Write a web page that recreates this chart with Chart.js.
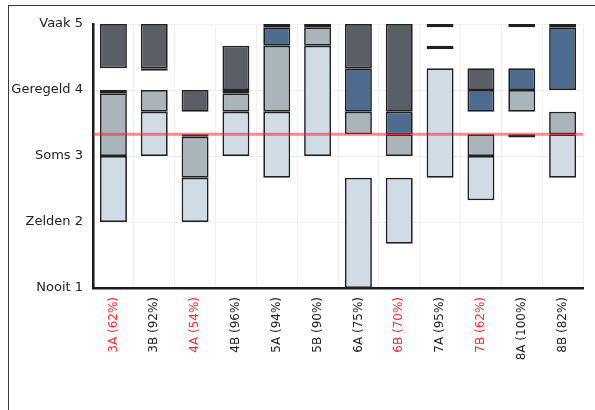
<!DOCTYPE html>
<html lang="nl">
<head>
  <meta charset="UTF-8">
  <title>Klassen</title>
  <script src="https://cdn.jsdelivr.net/npm/chart.js"></script>
  <style>
    body { margin: 0; padding: 0; background: #ffffff; overflow: hidden; }
    #wrap { position: absolute; left: 0; top: 0; width: 595px; height: 410px; }
  </style>
</head>
<body>
  <div id="wrap"><canvas id="chart"></canvas></div>
  <script>
    // Categories (class + response rate) / flagged ones get red labels
    const categories = ['3A (62%)', '3B (92%)', '4A (54%)', '4B (96%)', '5A (94%)', '5B (90%)',
                        '6A (75%)', '6B (70%)', '7A (95%)', '7B (62%)', '8A (100%)', '8B (82%)'];
    const flagged = [true, false, true, false, false, false, false, true, false, true, false, false];
    const yLabels = ['Nooit', 'Zelden', 'Soms', 'Geregeld', 'Vaak'];
    const refLine = 3.33;

    // Floating segments [from, to] per class
    const lightRange = [[2, 3], [3, 3.67], [2, 2.67], [3, 3.67], [2.67, 3.67], [3, 4.67],
                        [1, 2.67], [1.67, 2.67], [2.67, 4.33], [2.33, 3], null, [2.67, 3.33]];
    const grayRange = [[3, 3.95], [3.67, 4], [2.67, 3.29], [3.67, 3.95], [3.67, 4.67], [4.67, 4.95],
                       [3.33, 3.67], [3, 3.33], null, [3, 3.33], [3.67, 4], [3.33, 3.67]];
    const blueRange = [[3.95, 4], [4.29, 4.33], null, [3.95, 4], [4.67, 4.95], null,
                       [3.67, 4.33], [3.33, 3.67], [4.62, 4.67], [3.67, 4], [4, 4.33], [4, 4.95]];
    const darkRange = [[4.33, 5], [4.33, 5], [3.67, 4], [4, 4.67], [4.95, 5], [4.95, 5],
                       [4.33, 5], [3.67, 5], [4.95, 5], [4, 4.33], [4.95, 5], [4.95, 5]];
    const darkExtra = [null, null, [3.29, 3.33], null, null, null,
                       null, null, null, null, [3.28, 3.33], null];

    function seg(data, color) {
      return {
        data: data,
        backgroundColor: color,
        borderColor: '#202020',
        borderWidth: 1.7,
        borderSkipped: false,
        grouped: false,
        categoryPercentage: 1,
        barPercentage: 0.66
      };
    }

    // frame round the picture
    const framePlugin = {
      id: 'frame',
      beforeDraw(chart) {
        const ctx = chart.ctx;
        ctx.save();
        ctx.strokeStyle = '#3a3a3a';
        ctx.lineWidth = 1;
        ctx.strokeRect(8.5, 5.5, 620, 430);
        ctx.restore();
      }
    };

    // red reference line over the bars
    const refPlugin = {
      id: 'refLine',
      afterDatasetsDraw(chart) {
        const ctx = chart.ctx;
        const y = chart.scales.y.getPixelForValue(refLine);
        ctx.save();
        ctx.strokeStyle = 'rgba(255, 20, 30, 0.5)';
        ctx.lineWidth = 3;
        ctx.beginPath();
        ctx.moveTo(chart.chartArea.left, y);
        ctx.lineTo(chart.chartArea.right, y);
        ctx.stroke();
        ctx.restore();
      }
    };

    new Chart(document.getElementById('chart').getContext('2d'), {
      type: 'bar',
      data: {
        labels: categories,
        datasets: [
          seg(lightRange, '#cfdce5'),
          seg(grayRange, '#a9b4bb'),
          seg(blueRange, '#4d6c8f'),
          seg(darkRange, '#5a5e66'),
          seg(darkExtra, '#5a5e66')
        ]
      },
      options: {
        responsive: true,
        maintainAspectRatio: false,
        animation: false,
        layout: { padding: { top: 24, right: 12, left: 0, bottom: 0 } },
        plugins: { legend: { display: false }, tooltip: { enabled: false } },
        scales: {
          x: {
            afterFit: (scale) => { scale.height = 122; },
            grid: { color: '#efefef', drawTicks: false },
            border: { color: '#1a1a1a', width: 2.5 },
            ticks: {
              minRotation: 90, maxRotation: 90, padding: 9, autoSkip: false,
              font: { family: 'DejaVu Sans', size: 12 },
              color: (c) => flagged[c.index] ? '#ff2a2a' : '#222222'
            }
          },
          y: {
            min: 1, max: 5,
            afterFit: (scale) => { scale.width = 93; },
            grid: { color: '#efefef', drawTicks: false },
            border: { color: '#1a1a1a', width: 2.5 },
            ticks: {
              stepSize: 1, padding: 10,
              font: { family: 'DejaVu Sans', size: 13 },
              color: '#222222',
              callback: (v) => yLabels[v - 1] + ' ' + v
            }
          }
        }
      },
      plugins: [framePlugin, refPlugin]
    });
  </script>
</body>
</html>
